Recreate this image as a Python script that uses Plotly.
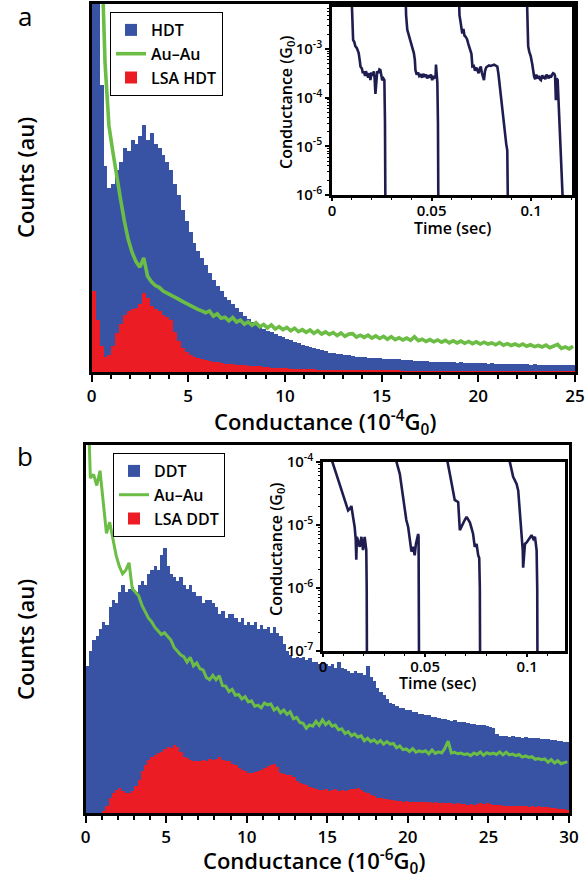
import plotly.graph_objects as go

W, H = 587, 877
FONT = "Open Sans"
BLUE = "#3953a4"
RED = "#ec1c24"
GREEN = "#6cbd45"
NAVY = "#1f1d50"

# ---------------- panel a : HDT histograms (bin width 0.2, 10^-4 G0) ----------------
BIN_W_A = 0.2
HDT = [160, 130, 78, 56, 50, 51, 55, 57, 61, 60,
       63, 62, 64, 67, 63, 65, 62, 61, 59, 57,
       55, 51, 48, 44, 41, 38, 35, 33, 31, 29,
       27, 25, 23.5, 22, 20.5, 19.5, 18.5, 17.5, 16.2, 15.3,
       14.5, 13.6, 13, 12.4, 11.8, 11.2, 10.9, 10.3, 9.9, 9.6,
       9.1, 8.7, 8.2, 7.9, 7.4, 7.1, 6.8, 6.4, 6.2, 5.9,
       5.6, 5.3, 5.2, 5.0, 4.8, 4.6, 4.5, 4.4, 4.2, 4.1,
       4.0, 3.9, 3.9, 3.8, 3.7, 3.6, 3.6, 3.5, 3.4, 3.4,
       3.3, 3.2, 3.2, 3.1, 3.0, 3.0, 2.9, 2.8, 2.8, 2.7,
       2.7, 2.6, 2.7, 2.6, 2.5, 2.6, 2.5, 2.5, 2.4, 2.5,
       2.4, 2.4, 2.3, 2.4, 2.3, 2.2, 2.3, 2.2, 2.2, 2.1,
       2.2, 2.1, 2.1, 2.0, 2.1, 2.0, 2.0, 1.9, 2.0, 1.9,
       1.9, 1.9, 1.8, 1.9, 1.8]
AU_A = [320, 200, 118, 84, 67, 60, 53, 47, 41, 36,
        32.5, 30, 28.5, 31, 26, 24.5, 23.5, 23, 22, 21.5,
        21, 20.3, 19.8, 19.2, 18.6, 18.1, 17.6, 17.0, 16.6, 16.1,
        16.6, 15.2, 15.8, 14.6, 14.9, 13.9, 14.8, 13.6, 14.1, 13.0,
        13.6, 12.7, 13.4, 12.3, 12.9, 12.0, 12.8, 11.7, 12.3, 11.5,
        12.1, 11.2, 11.9, 11.0, 11.5, 10.8, 11.4, 10.5, 11.2, 10.3,
        10.9, 10.2, 10.7, 9.9, 10.6, 9.7, 10.3, 10.4, 9.5, 10.0,
        9.4, 10.0, 9.2, 9.8, 9.1, 9.7, 8.9, 9.6, 8.8, 9.3,
        8.7, 9.2, 8.6, 9.6, 8.5, 8.9, 8.3, 8.8, 8.2, 8.7,
        8.1, 8.6, 7.9, 8.5, 7.9, 8.4, 7.8, 8.3, 7.7, 8.2,
        7.6, 8.1, 7.6, 7.9, 7.4, 8.0, 7.3, 7.7, 7.2, 7.6,
        7.1, 7.6, 7.0, 7.4, 6.9, 7.2, 6.8, 7.3, 6.6, 7.0,
        7.5, 6.4, 6.8, 6.3, 7.0]
LSA_HDT = [22, 14, 7, 4, 4.5, 7, 10.5, 13, 15.5, 16.5,
           17, 17.5, 18.5, 21.5, 20, 18, 17, 16.5, 15.5, 15,
           14, 11, 8.5, 6.5, 5.5, 4.6, 4.0, 3.7, 3.4, 3.2,
           3.0, 2.8, 2.6, 2.5, 2.3, 2.2, 2.1, 2.0, 1.9, 1.8,
           1.7, 1.6, 1.5, 1.5, 1.4, 1.3, 1.2, 1.2, 1.1, 1.0,
           1.0, 0.9, 0.9, 0.8, 0.8, 0.7, 0.7, 0.7, 0.6, 0.6,
           0.6, 0.5, 0.5, 0.5, 0.5, 0.4, 0.4, 0.4, 0.4, 0.4,
           0.3, 0.3, 0.3, 0.3, 0.3, 0.3, 0.3, 0.3, 0.3, 0.3,
           0.25, 0.25, 0.25, 0.25, 0.25, 0.25, 0.25, 0.25, 0.25, 0.25,
           0.2, 0.2, 0.2, 0.2, 0.2, 0.2, 0.2, 0.2, 0.2, 0.2,
           0.2, 0.2, 0.2, 0.2, 0.2, 0.15, 0.15, 0.15, 0.15, 0.15,
           0.15, 0.15, 0.15, 0.15, 0.15, 0.15, 0.15, 0.15, 0.15, 0.15,
           0.15, 0.15, 0.15, 0.15, 0.15]
CEN_A = [round(BIN_W_A / 2 + BIN_W_A * i, 3) for i in range(len(HDT))]

# ---------------- panel b : DDT histograms (bin width 0.2, 10^-6 G0) ----------------
BIN_W_B = 0.2
DDT = [40, 44, 47, 48, 50, 52, 51, 56, 58, 57,
       60, 62, 60, 61, 61.5, 60, 62, 63, 62, 65,
       66, 67, 66, 70, 72, 67, 65, 64, 63, 64,
       62, 61, 62, 60, 59, 59, 57, 58, 58, 57,
       56, 54, 55, 53, 54, 54, 53, 52, 53, 51,
       52, 51, 52, 50, 51, 50, 50.5, 49, 50.5, 49,
       48, 46, 44, 43, 42, 42.5, 42, 42.5, 41.5, 42,
       41, 41, 40.5, 41, 40.5, 40, 40.5, 39.5, 41, 39.5,
       39, 38.5, 38, 38.5, 38, 38, 37.5, 40, 37, 36,
       34, 33, 32, 31, 30, 29.5, 29, 28.5, 28.5, 28,
       28, 27.5, 27.5, 27, 27, 26.5, 26.5, 26, 26, 25.8,
       25.5, 25.5, 25.3, 25, 25.3, 24.8, 24.6, 24.8, 24.4, 24.2,
       24.2, 24.0, 23.8, 24.0, 23.6, 23.5, 23.2, 21.5, 21, 20.8,
       20.8, 20.7, 20.9, 20.6, 20.7, 20.5, 20.6, 20.4, 20.5, 20.3,
       20.4, 20.2, 20.0, 20.1, 19.8, 19.9, 19.6, 19.5, 19.4, 19.3]
AU_B = [120, 91, 92, 89, 93, 85, 76, 79, 74, 70,
        67, 65, 66, 68, 61, 60, 59, 56.5, 54.5, 53,
        52, 50.5, 49.5, 48.5, 49, 48, 47, 45, 44, 43,
        42.5, 41.0, 42.3, 40.0, 40.8, 39.2, 38.9, 36.8, 36.2, 37.4,
        36.2, 37.3, 34.6, 34.5, 33.0, 33.6, 32.0, 32.2, 31.0, 31.6,
        30.2, 30.5, 29.0, 29.3, 28.6, 29.9, 29.4, 29.6, 28.0, 28.6,
        27.2, 28.0, 26.8, 27.5, 25.6, 26.0, 24.6, 24.4, 23.0, 23.9,
        23.6, 24.9, 23.8, 25.3, 24.0, 24.8, 23.6, 23.9, 22.6, 22.9,
        21.6, 22.1, 21.0, 21.5, 20.6, 21.0, 19.6, 20.3, 19.4, 19.9,
        19.0, 19.7, 18.7, 19.4, 18.7, 18.9, 17.7, 18.2, 17.2, 17.4,
        16.7, 17.5, 16.5, 16.9, 16.6, 16.9, 16.1, 17.1, 16.2, 16.6,
        16.3, 17.6, 19.5, 16.3, 16.5, 16.1, 16.3, 15.9, 16.1, 15.6,
        16.3, 15.9, 16.6, 15.7, 16.4, 16.0, 16.3, 15.9, 16.6, 15.8,
        16.5, 15.8, 16.0, 15.6, 15.9, 15.2, 15.5, 15.1, 15.3, 14.6,
        14.8, 14.5, 14.7, 13.8, 14.5, 13.6, 14.2, 13.4, 13.7, 13.9]
LSA_DDT = [0, 0, 0, 0, 0, 0.5, 2, 4, 5.4, 6.2,
           6.8, 6, 5.5, 5.4, 6, 7.3, 9, 11.5, 13, 14.5,
           15.2, 15.8, 16.3, 16.5, 17.5, 18, 17.6, 18.5, 18, 16.5,
           15.2, 15, 14.5, 14, 14.2, 14, 14.4, 14, 14.6, 14.4,
           14.8, 15.2, 14.5, 14.2, 14, 13.4, 13, 12.2, 11.8, 11.5,
           11, 10.9, 11.2, 11.5, 11.8, 12.2, 12.8, 13, 13.2, 12.4,
           11, 10.5, 10.3, 10.2, 9.8, 8.8, 8.2, 8, 7.6, 7.2,
           6.8, 6.5, 6.3, 6.2, 6.4, 6.1, 6.3, 6.4, 6.0, 6.2,
           6.0, 6.2, 6.5, 6.6, 6.8, 6.2, 5.8, 5.4, 5.0, 4.6,
           4.2, 4.0, 3.8, 3.7, 3.6, 3.4, 3.3, 3.2, 3.1, 3.2,
           3.0, 3.1, 2.9, 3.0, 3.1, 2.9, 3.0, 2.8, 2.9, 2.8,
           2.7, 2.8, 2.6, 2.7, 2.5, 2.6, 2.4, 2.5, 2.3, 2.4,
           2.3, 2.5, 2.6, 2.4, 2.7, 2.5, 2.3, 2.2, 2.1, 2.0,
           2.0, 1.9, 2.0, 1.8, 1.9, 1.8, 1.9, 1.7, 1.8, 1.7,
           1.8, 1.7, 1.6, 1.5, 1.4, 1.3, 1.2, 1.1, 1.0, 0.8]
CEN_B = [round(BIN_W_B / 2 + BIN_W_B * i, 3) for i in range(len(DDT))]

# ---------------- inset a : HDT traces (time in s, conductance in G0) ----------------
T_A1 = [0.0095, 0.0100, 0.0106, 0.0112, 0.0117, 0.0125, 0.0134, 0.0140, 0.0143, 0.0150,
        0.0155, 0.0160, 0.0166, 0.0170, 0.0176, 0.0182, 0.0188, 0.0193, 0.0198, 0.0203,
        0.0210, 0.0214, 0.0218, 0.0222, 0.0227, 0.0233, 0.0238, 0.0243, 0.0248, 0.0252,
        0.0258, 0.0263, 0.0266, 0.0268, 0.0270]
G_A1 = [3e-2, 5e-3, 1.55e-3, 1.4e-3, 1.15e-3, 1.05e-3, 8.3e-4, 5.6e-4, 4.4e-4, 4.0e-4,
        3.2e-4, 3.5e-4, 2.8e-4, 3.5e-4, 3.0e-4, 2.6e-4, 3.2e-4, 2.3e-4, 3.3e-4, 2.8e-4,
        3.5e-4, 2.5e-4, 1.2e-4, 2.5e-4, 3.5e-4, 3.2e-4, 3.8e-4, 3.7e-4, 2.8e-4, 2.3e-4,
        2.5e-4, 2.3e-4, 3.2e-5, 9e-7, 1e-8]
T_A2 = [0.0367, 0.0372, 0.0378, 0.0386, 0.0394, 0.0402, 0.0411, 0.0416, 0.0419, 0.0425,
        0.0432, 0.0438, 0.0445, 0.0452, 0.0458, 0.0465, 0.0472, 0.0478, 0.0485, 0.0491,
        0.0497, 0.0503, 0.0510, 0.0516, 0.0520, 0.0522, 0.0526, 0.0529, 0.0532, 0.0534, 0.0536]
G_A2 = [3e-2, 5e-3, 2.5e-3, 1.9e-3, 1.55e-3, 1.1e-3, 8.3e-4, 6e-4, 3.7e-4, 3.0e-4,
        3.3e-4, 2.8e-4, 2.95e-4, 2.6e-4, 3.1e-4, 2.7e-4, 3.0e-4, 2.5e-4, 2.9e-4, 2.6e-4,
        3.0e-4, 2.3e-4, 2.8e-4, 2.6e-4, 2.7e-4, 4.8e-4, 3.0e-4, 2.0e-4, 3e-5, 9e-7, 1e-8]
T_A3 = [0.0635, 0.0640, 0.0646, 0.0650, 0.0654, 0.0660, 0.0665, 0.0671, 0.0678, 0.0684,
        0.0688, 0.0694, 0.0700, 0.0705, 0.0712, 0.0718, 0.0724, 0.0730, 0.0736, 0.0741,
        0.0747, 0.0752, 0.0757, 0.0763, 0.0768, 0.0774, 0.0780, 0.0788, 0.0797, 0.0806,
        0.0814, 0.0822, 0.0830, 0.0836, 0.0842, 0.0847, 0.0853, 0.0858, 0.0864, 0.0870,
        0.0875, 0.0880, 0.0884, 0.0886, 0.0888]
G_A3 = [3e-2, 5e-3, 3.5e-3, 2.8e-3, 2.1e-3, 2.6e-3, 1.9e-3, 1.8e-3, 1.6e-3, 1.3e-3,
        1.15e-3, 1.0e-3, 8e-4, 4.4e-4, 4.5e-4, 3.6e-4, 4.2e-4, 3.7e-4, 3.2e-4, 3.9e-4,
        4.4e-4, 3.3e-4, 2.8e-4, 2.3e-4, 3.5e-4, 4.2e-4, 4.4e-4, 4.6e-4, 4.5e-4, 4.7e-4,
        4.8e-4, 4.6e-4, 4.4e-4, 3.0e-4, 1.8e-4, 8.9e-5, 6.5e-5, 4.0e-5, 2.5e-5, 1.6e-5,
        1.1e-5, 8.3e-6, 3e-6, 8e-7, 1e-8]
T_A4 = [0.0976, 0.0980, 0.0985, 0.0990, 0.0998, 0.1005, 0.1010, 0.1015, 0.1020, 0.1026,
        0.1032, 0.1038, 0.1044, 0.1049, 0.1055, 0.1060, 0.1066, 0.1071, 0.1077, 0.1082,
        0.1088, 0.1093, 0.1099, 0.1105, 0.1110, 0.1116, 0.1120, 0.1124, 0.1128, 0.1133,
        0.1137, 0.1141, 0.1145, 0.1150, 0.1154, 0.1158, 0.1160]
G_A4 = [3e-2, 5e-3, 1.15e-3, 9e-4, 7.1e-4, 5e-4, 3.5e-4, 2.7e-4, 2.4e-4, 3.0e-4,
        2.5e-4, 2.8e-4, 2.4e-4, 2.3e-4, 2.9e-4, 2.5e-4, 2.8e-4, 2.4e-4, 3.0e-4, 2.7e-4,
        2.5e-4, 2.9e-4, 2.6e-4, 3.0e-4, 3.2e-4, 3.1e-4, 2.8e-4, 8.9e-5, 2.5e-4, 2.3e-4,
        1.0e-4, 2.5e-5, 1.2e-5, 3.7e-6, 2e-6, 9e-7, 1e-8]

# ---------------- inset b : DDT traces ----------------
T_B1 = [0.0044, 0.0046, 0.0065, 0.0080, 0.0090, 0.0106, 0.0115, 0.0123, 0.0131, 0.0139,
        0.0147, 0.0155, 0.0160, 0.0163, 0.0166, 0.0172, 0.0180, 0.0188, 0.0196, 0.0204,
        0.0212, 0.0214, 0.0216]
G_B1 = [3e-4, 1e-4, 6.5e-5, 4.5e-5, 3.5e-5, 2.5e-5, 1.9e-5, 1.7e-5, 1.8e-5, 2.0e-5,
        1.35e-5, 9.3e-6, 6e-6, 2.8e-6, 6.5e-6, 5.5e-6, 4.5e-6, 6.5e-6, 4.0e-6, 6.5e-6,
        4.0e-6, 1e-6, 1e-8]
T_B2 = [0.0358, 0.0360, 0.0376, 0.0392, 0.0400, 0.0408, 0.0417, 0.0425, 0.0433, 0.0441,
        0.0449, 0.0455, 0.0458, 0.0466, 0.0468, 0.0469, 0.0471]
G_B2 = [3e-4, 1e-4, 6.5e-5, 2.8e-5, 1.9e-5, 1.2e-5, 9.3e-6, 5.7e-6, 3.8e-6, 4.5e-6,
        3.3e-6, 5.0e-6, 5.7e-6, 7.2e-6, 6.5e-6, 1e-6, 1e-8]
T_B3 = [0.0608, 0.0610, 0.0621, 0.0637, 0.0645, 0.0654, 0.0662, 0.0670, 0.0678, 0.0686,
        0.0694, 0.0703, 0.0711, 0.0719, 0.0727, 0.0735, 0.0743, 0.0752, 0.0760, 0.0765,
        0.0768, 0.0770]
G_B3 = [3e-4, 1e-4, 6.5e-5, 3.5e-5, 2.5e-5, 2.4e-5, 2.3e-5, 8.3e-6, 9.5e-6, 1.05e-5,
        1.2e-5, 1.35e-5, 1.2e-5, 1.1e-5, 9e-6, 7.2e-6, 4.5e-6, 5.0e-6, 3.3e-6, 3.0e-6,
        1e-6, 1e-8]
T_B4 = [0.0913, 0.0915, 0.0931, 0.0948, 0.0956, 0.0964, 0.0972, 0.0978, 0.0980, 0.0985,
        0.0989, 0.0997, 0.1005, 0.1013, 0.1021, 0.1030, 0.1038, 0.1046, 0.1049, 0.1051]
G_B4 = [3e-4, 1e-4, 5.8e-5, 4.5e-5, 3.5e-5, 1.5e-5, 9.3e-6, 4e-6, 2.1e-6, 3.5e-6,
        5.0e-6, 5.3e-6, 5.7e-6, 6.3e-6, 6.9e-6, 6.0e-6, 6.5e-6, 4.0e-6, 1e-6, 1e-8]

INSET_A_TICKS = [1e-6, 1e-5, 1e-4, 1e-3]
INSET_A_TEXT = ["10<sup>-6</sup>", "10<sup>-5</sup>", "10<sup>-4</sup>", "10<sup>-3</sup>"]
INSET_B_TICKS = [1e-7, 1e-6, 1e-5, 1e-4]
INSET_B_TEXT = ["10<sup>-7</sup>", "10<sup>-6</sup>", "10<sup>-5</sup>", "10<sup>-4</sup>"]
TIME_TICKS = [0, 0.05, 0.1]
TIME_TEXT = ["0", "0.05", "0.1"]


def px(x):
    return x / W


def py(y):
    return 1 - y / H


fig = go.Figure()

# panel a
fig.add_trace(go.Bar(x=CEN_A, y=HDT, width=BIN_W_A, name="HDT", legendrank=1,
                     marker=dict(color=BLUE, line=dict(width=0)), xaxis="x", yaxis="y", legend="legend"))
fig.add_trace(go.Bar(x=CEN_A, y=LSA_HDT, width=BIN_W_A, name="LSA HDT", legendrank=3,
                     marker=dict(color=RED, line=dict(width=0)), xaxis="x", yaxis="y", legend="legend"))
fig.add_trace(go.Scatter(x=CEN_A, y=AU_A, mode="lines", name="Au\u2013Au", legendrank=2,
                         line=dict(color=GREEN, width=3.6), xaxis="x", yaxis="y", legend="legend"))

# panel b
fig.add_trace(go.Bar(x=CEN_B, y=DDT, width=BIN_W_B, name="DDT", legendrank=1,
                     marker=dict(color=BLUE, line=dict(width=0)), xaxis="x3", yaxis="y3", legend="legend2"))
fig.add_trace(go.Bar(x=CEN_B, y=LSA_DDT, width=BIN_W_B, name="LSA DDT", legendrank=3,
                     marker=dict(color=RED, line=dict(width=0)), xaxis="x3", yaxis="y3", legend="legend2"))
fig.add_trace(go.Scatter(x=CEN_B, y=AU_B, mode="lines", name="Au\u2013Au", legendrank=2,
                         line=dict(color=GREEN, width=3), xaxis="x3", yaxis="y3", legend="legend2"))

for t, g in [(T_A1, G_A1), (T_A2, G_A2), (T_A3, G_A3), (T_A4, G_A4)]:
    fig.add_trace(go.Scatter(x=t, y=g, mode="lines", showlegend=False,
                             line=dict(color=NAVY, width=2.6), xaxis="x2", yaxis="y2"))
for t, g in [(T_B1, G_B1), (T_B2, G_B2), (T_B3, G_B3), (T_B4, G_B4)]:
    fig.add_trace(go.Scatter(x=t, y=g, mode="lines", showlegend=False,
                             line=dict(color=NAVY, width=2.6), xaxis="x4", yaxis="y4"))

tickfont_main = dict(family=FONT, size=17, color="black", weight=600)
tickfont_in = dict(family=FONT, size=15, color="black", weight=600)


def main_x(dom, rng, anchor):
    return dict(domain=dom, range=rng, anchor=anchor, showline=True, linewidth=2.5, linecolor="black",
                mirror=True, ticks="outside", ticklen=7, tickwidth=2, tickcolor="black", dtick=5, tick0=0,
                minor=dict(ticks="outside", ticklen=4, tickwidth=1.5, tickcolor="black", dtick=1),
                showgrid=False, zeroline=False, tickfont=tickfont_main, automargin=False)


def main_y(dom, anchor):
    return dict(domain=dom, range=[0, 100], anchor=anchor, showline=True, linewidth=2.5, linecolor="black",
                mirror=True, ticks="", showticklabels=False, showgrid=False, zeroline=False,
                automargin=False)


def inset_x(dom, rng, anchor):
    return dict(domain=dom, range=rng, anchor=anchor, showline=True, linewidth=2.5, linecolor="black",
                mirror=True, ticks="outside", ticklen=3, tickwidth=1.5, tickcolor="black",
                tickvals=TIME_TICKS, ticktext=TIME_TEXT, ticklabelstandoff=-3,
                minor=dict(ticks="outside", ticklen=2, tickwidth=1, tickcolor="black", dtick=0.01),
                showgrid=False, zeroline=False, tickfont=tickfont_in, automargin=False)


def inset_y(dom, rng, anchor, tv, tt):
    lo, hi = int(rng[0]), int(rng[1]) + 1
    minor_vals = [k * 10 ** e for e in range(lo, hi) for k in range(2, 10)]
    return dict(domain=dom, range=rng, type="log", anchor=anchor, showline=True, linewidth=2.5,
                linecolor="black", mirror=True, ticks="outside", ticklen=4, tickwidth=1.5, tickcolor="black",
                tickvals=tv, ticktext=tt,
                minor=dict(ticks="outside", ticklen=2, tickwidth=1, tickcolor="black", tickvals=minor_vals),
                showgrid=False, zeroline=False, tickfont=tickfont_in, automargin=False)


legend_common = dict(bgcolor="white", bordercolor="black", borderwidth=1,
                     font=dict(family=FONT, size=16, color="black", weight=600),
                     xanchor="left", yanchor="top", tracegroupgap=0, itemwidth=30,
                     traceorder="normal")

fig.update_layout(
    width=W, height=H, margin=dict(l=0, r=0, t=0, b=0, autoexpand=False),
    paper_bgcolor="white", plot_bgcolor="rgba(0,0,0,0)",
    barmode="overlay", bargap=0,
    font=dict(family=FONT, color="black"),
    xaxis=main_x([px(91.5), px(575)], [0, 25], "y"),
    yaxis=main_y([py(372), py(4)], "x"),
    xaxis2=inset_x([px(332), px(572)], [0, 0.1205], "y2"),
    yaxis2=inset_y([py(195), py(7)], [-6, -2.134], "x2", INSET_A_TICKS, INSET_A_TEXT),
    xaxis3=main_x([px(85.5), px(569)], [0, 30], "y3"),
    yaxis3=main_y([py(813), py(445)], "x3"),
    xaxis4=inset_x([px(323), px(565)], [0, 0.1185], "y4"),
    yaxis4=inset_y([py(651), py(462)], [-7, -4], "x4", INSET_B_TICKS, INSET_B_TEXT),
    legend=dict(x=px(110), y=py(12), **legend_common),
    legend2=dict(x=px(113), y=py(453), **legend_common),
    showlegend=True,
)

ann_title = dict(family=FONT, size=22, color="black", weight=600)
ann_inset = dict(family=FONT, size=16, color="black", weight=600)
annotations = [
    dict(text="a", x=px(25), y=py(16), font=dict(family=FONT, size=26, color="black")),
    dict(text="b", x=px(25), y=py(456), font=dict(family=FONT, size=26, color="black")),
    dict(text="Counts (au)", x=px(25), y=py(178), textangle=-90, font=ann_title),
    dict(text="Counts (au)", x=px(25), y=py(640), textangle=-90, font=ann_title),
    dict(text="Conductance (10<sup>-4</sup>G<sub>0</sub>)", x=px(325), y=py(422), font=ann_title),
    dict(text="Conductance (10<sup>-6</sup>G<sub>0</sub>)", x=px(314), y=py(861), font=ann_title),
    dict(text="Conductance (G<sub>0</sub>)", x=px(286), y=py(103), textangle=-90, font=ann_inset),
    dict(text="Time (sec)", x=px(452), y=py(228), font=ann_inset),
    dict(text="Conductance (G<sub>0</sub>)", x=px(276), y=py(550), textangle=-90, font=ann_inset),
    dict(text="Time (sec)", x=px(437), y=py(683), font=ann_inset),
]
for a in annotations:
    a.update(xref="paper", yref="paper", showarrow=False, xanchor="center", yanchor="middle")
fig.update_layout(annotations=annotations)

fig.write_html("out.html")
